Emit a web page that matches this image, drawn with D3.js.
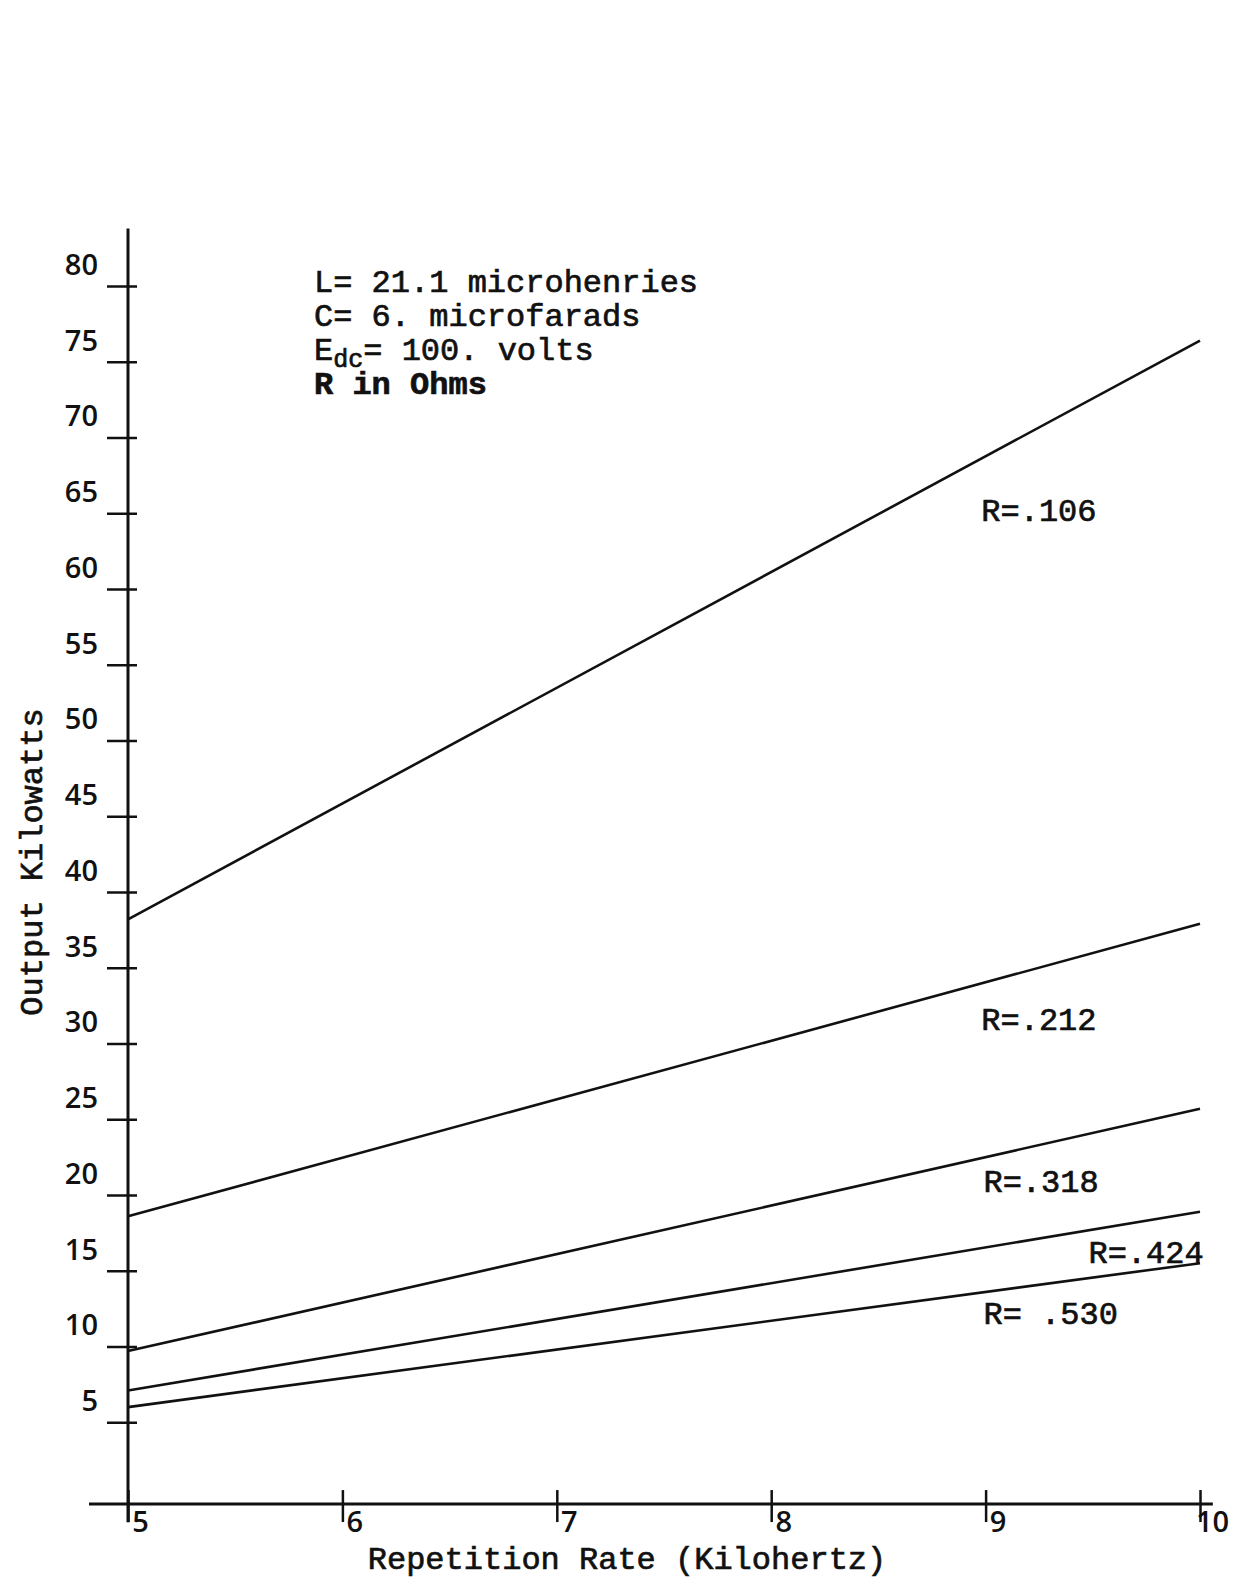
<!DOCTYPE html>
<html>
<head>
<meta charset="utf-8">
<script src="https://cdn.jsdelivr.net/npm/d3@7"></script>
<style>
  body { margin: 0; background: #fff; }
  svg { display: block; }
  .num { font-family: "Open Sans", "DejaVu Sans", sans-serif; font-size: 29px; font-weight: 600; fill: #111; }
  .typed { font-family: "Liberation Mono", "Courier New", monospace; font-size: 32px; fill: #111; stroke: #111; stroke-width: 0.7px; }
</style>
</head>
<body>
<div id="chart"></div>
<script>
// values
const rateKHz = [5, 10];
const xTicks = [5, 6, 7, 8, 9, 10];
const yTicks = [5, 10, 15, 20, 25, 30, 35, 40, 45, 50, 55, 60, 65, 70, 75, 80];
const seriesNames = ['R=.106', 'R=.212', 'R=.318', 'R=.424', 'R= .530'];
const kwAt5 = [38.2, 18.6, 9.7, 7.1, 6.0];
const kwAt10 = [76.4, 37.9, 25.7, 18.9, 15.5];
const notes = ['L= 21.1 microhenries', 'C= 6. microfarads', 'Edc= 100. volts', 'R in Ohms'];

const W = 1234, H = 1578;
const svg = d3.select('#chart').append('svg').attr('width', W).attr('height', H);

const x = d3.scaleLinear().domain([5, 10]).range([128, 1200]);
const y = d3.scaleLinear().domain([0, 80]).range([1498, 286]);
const ink = '#111';

// y axis
const gy = svg.append('g').attr('transform', 'translate(' + x(5) + ',0)')
	.call(d3.axisLeft(y).tickValues(yTicks).tickSize(21).tickFormat(d3.format('d')));
gy.attr('font-size', null).attr('font-family', null);
gy.select('.domain').remove();
gy.selectAll('.tick line').attr('x1', 9).attr('x2', -21).attr('stroke', ink).attr('stroke-width', 2.5);
gy.selectAll('.tick text').attr('class', 'num').attr('x', -30).attr('y', -22).attr('dy', '0.36em');
svg.append('line')
	.attr('x1', x(5)).attr('x2', x(5))
	.attr('y1', y(83.8)).attr('y2', y(-1.6))
	.attr('stroke', ink).attr('stroke-width', 3);

// x axis
const gx = svg.append('g').attr('transform', 'translate(0,' + y(-0.4) + ')')
	.call(d3.axisBottom(x).tickValues(xTicks).tickSize(18).tickFormat(d3.format('d')));
gx.attr('font-size', null).attr('font-family', null);
gx.select('.domain').remove();
gx.selectAll('.tick line').attr('y1', -14).attr('y2', 18).attr('stroke', ink).attr('stroke-width', 2.5);
gx.selectAll('.tick text').attr('class', 'num').attr('x', 12).attr('y', 28).attr('dy', 0);
svg.append('line')
	.attr('x1', 89).attr('x2', x(10.06))
	.attr('y1', y(-0.4)).attr('y2', y(-0.4))
	.attr('stroke', ink).attr('stroke-width', 3);

// one straight line per resistance
const lines = seriesNames.map((name, i) => ({name: name, pts: [[rateKHz[0], kwAt5[i]], [rateKHz[1], kwAt10[i]]]}));
const line = d3.line().x(d => x(d[0])).y(d => y(d[1]));
svg.selectAll('.series')
	.data(lines)
	.enter()
	.append('path')
	.attr('class', 'series')
	.attr('d', d => line(d.pts))
	.attr('fill', 'none')
	.attr('stroke', ink)
	.attr('stroke-width', 2.6);

// series labels (anchor in data units)
const labelAt = [[8.98, 65.2], [8.98, 31.6], [8.99, 20.9], [9.48, 16.2], [8.99, 12.2]];
svg.selectAll('.rlabel')
	.data(lines)
	.enter()
	.append('text')
	.attr('class', 'typed rlabel')
	.attr('x', (d, i) => x(labelAt[i][0]))
	.attr('y', (d, i) => y(labelAt[i][1]))
	.attr('dy', '0.33em')
	.text(d => d.name);

// parameter notes
const noteG = svg.append('g');
notes.forEach((t, i) => {
	const tx = noteG.append('text').attr('class', 'typed').attr('x', 314).attr('y', 292 + i * 34);
	if (t.startsWith('Edc')) {
		tx.append('tspan').text('E');
		tx.append('tspan').attr('dy', 7).attr('font-size', 25).text('dc');
		tx.append('tspan').attr('dy', -7).text(t.slice(3));
	} else {
		tx.text(t);
	}
	if (i === 3) tx.attr('font-weight', 'bold');
});

// axis titles
svg.append('text').attr('class', 'typed')
	.attr('x', 627).attr('y', 1569)
	.attr('text-anchor', 'middle')
	.text('Repetition Rate (Kilohertz)');
svg.append('text').attr('class', 'typed')
	.attr('transform', 'translate(42,862) rotate(-90)')
	.attr('text-anchor', 'middle')
	.text('Output Kilowatts');
</script>
</body>
</html>
